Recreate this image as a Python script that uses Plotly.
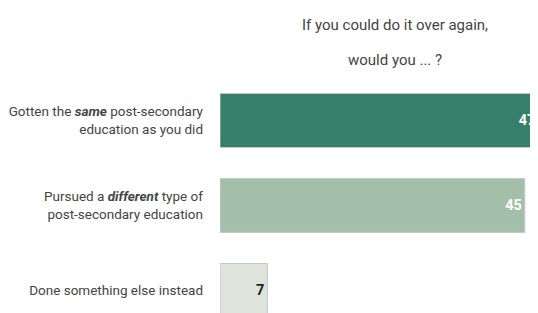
import plotly.graph_objects as go

categories = [
    "Gotten the <b><i>same</i></b> post-secondary<br>education as you did",
    "Pursued a <b><i>different</i></b> type of<br>post-secondary education",
    "Done something else instead",
]
values = [47, 45, 7]
value_labels = ["47", "45", "7"]
title_lines = ["If you could do it over again,", "would you ... ?"]

bar_colors = ["#367F6B", "#A3BFAA", "#DEE3DC"]
text_colors = ["#FFFFFF", "#FFFFFF", "#222222"]
FONT = "Roboto, Liberation Sans, sans-serif"

# page body has an 8px margin, so the figure is drawn 8px in from the corner
OFF = 8
W, H = 538 - OFF, 313 - OFF
L, T = 220 - OFF, 78 - OFF
plot_w = W - L
plot_h = H - T

fig = go.Figure(
    go.Bar(
        x=values,
        y=categories,
        orientation="h",
        width=0.635,
        marker=dict(color=bar_colors, line=dict(color="#C8C8C8", width=1)),
        text=value_labels,
        textposition="inside",
        insidetextanchor="end",
        textangle=0,
        textfont=dict(family=FONT, size=14.5, color=text_colors, weight="bold"),
        cliponaxis=True,
        hoverinfo="skip",
    )
)

fig.update_layout(
    width=W,
    height=H,
    margin=dict(l=L, r=0, t=T, b=0, pad=0, autoexpand=False),
    paper_bgcolor="white",
    plot_bgcolor="white",
    showlegend=False,
    font=dict(family=FONT, size=13.5, color="#444444"),
    xaxis=dict(range=[0, 46.95], visible=False, fixedrange=True, automargin=False),
    yaxis=dict(
        range=[-0.5 + plot_h / 85.0, -0.5],
        showgrid=False,
        zeroline=False,
        showline=False,
        ticks="",
        automargin=False,
        ticklabelstandoff=16,
        tickfont=dict(family=FONT, size=13.5, color="#444444"),
        fixedrange=True,
    ),
)

title_px_y = [25 - OFF, 60 - OFF]
for line, py in zip(title_lines, title_px_y):
    fig.add_annotation(
        text=line,
        xref="paper",
        yref="paper",
        x=(395 - OFF - L) / plot_w,
        y=(H - py) / plot_h,
        xanchor="center",
        yanchor="middle",
        showarrow=False,
        font=dict(family=FONT, size=15, color="#444444"),
    )

fig.write_html("out.html")
